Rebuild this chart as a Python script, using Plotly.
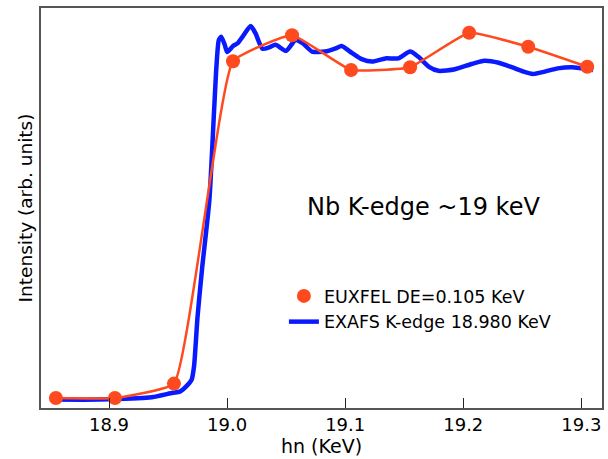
import plotly.graph_objects as go

# EUXFEL measured points
euxfel_x = [18.855, 18.905, 18.955, 19.005, 19.055, 19.105, 19.155, 19.205, 19.255, 19.305]
euxfel_y = [0.025, 0.025, 0.061, 0.867, 0.932, 0.845, 0.852, 0.938, 0.903, 0.853]

# EXAFS reference curve
exafs_x = [18.853, 18.892, 18.934, 18.954, 18.960, 18.966, 18.970, 18.972, 18.975, 18.979,
           18.985, 18.989, 18.991, 18.993, 18.995, 18.998, 19.000, 19.005, 19.009, 19.013,
           19.020, 19.024, 19.030, 19.036, 19.041, 19.050, 19.058, 19.064, 19.072, 19.083,
           19.092, 19.097, 19.106, 19.114, 19.123, 19.134, 19.145, 19.155, 19.162, 19.171,
           19.179, 19.193, 19.207, 19.218, 19.230, 19.241, 19.251, 19.259, 19.269, 19.280,
           19.292, 19.310]
exafs_y = [0.021, 0.021, 0.026, 0.038, 0.041, 0.056, 0.071, 0.104, 0.229, 0.354,
           0.520, 0.745, 0.855, 0.920, 0.928, 0.908, 0.890, 0.905, 0.912, 0.928,
           0.955, 0.937, 0.898, 0.902, 0.908, 0.893, 0.920, 0.912, 0.891, 0.891,
           0.899, 0.905, 0.887, 0.872, 0.866, 0.874, 0.874, 0.891, 0.878, 0.853,
           0.843, 0.847, 0.860, 0.868, 0.863, 0.852, 0.841, 0.835, 0.841, 0.849,
           0.852, 0.845]

x_ticks = [18.9, 19.0, 19.1, 19.2, 19.3]
x_tick_labels = ["18.9", "19.0", "19.1", "19.2", "19.3"]

RED = "#ff4a1f"
BLUE = "#0a1aff"
FONT = "DejaVu Sans, Liberation Sans, Arial, sans-serif"

fig = go.Figure()
fig.add_trace(go.Scatter(x=exafs_x, y=exafs_y, mode="lines", name="EXAFS K-edge 18.980 KeV",
                         line=dict(color=BLUE, width=4.5, shape="spline", smoothing=0.6)))
fig.add_trace(go.Scatter(x=euxfel_x, y=euxfel_y, mode="lines", showlegend=False,
                         line=dict(color=RED, width=2.5, shape="spline", smoothing=0.35)))
fig.add_trace(go.Scatter(x=euxfel_x, y=euxfel_y, mode="markers", name="EUXFEL DE=0.105 KeV",
                         marker=dict(color=RED, size=14)))

fig.update_layout(
    width=608, height=459,
    margin=dict(l=41, r=4, t=8, b=51),
    paper_bgcolor="white", plot_bgcolor="white",
    font=dict(family=FONT, size=16, color="black"),
    showlegend=True,
    legend=dict(x=0.433, y=0.325, xanchor="left", yanchor="top",
                bgcolor="rgba(0,0,0,0)", font=dict(size=17.5),
                traceorder="reversed", tracegroupgap=0, itemwidth=30),
    annotations=[dict(text="Nb K-edge ~19 keV", x=0.682, y=0.502, xref="paper", yref="paper",
                      xanchor="center", yanchor="middle",
                      showarrow=False, font=dict(size=24, family=FONT))],
)
fig.update_xaxes(range=[18.8424, 19.3175], tickvals=x_ticks, ticktext=x_tick_labels,
                 ticks="inside", ticklen=10, tickcolor="#222", tickwidth=1.2,
                 showline=True, linecolor="#555", linewidth=1.5, mirror=True,
                 showgrid=False, zeroline=False, tickfont=dict(size=18),
                 title=dict(text="hn (KeV)", font=dict(size=19), standoff=0))
fig.update_yaxes(range=[0, 1], showticklabels=False, ticks="",
                 showline=True, linecolor="#555", linewidth=1.5, mirror=True,
                 showgrid=False, zeroline=False,
                 title=dict(text="Intensity (arb. units)", font=dict(size=18.5), standoff=2))

fig.write_html("out.html", post_script="document.body.style.margin='0px';",
               config={"displayModeBar": False})
